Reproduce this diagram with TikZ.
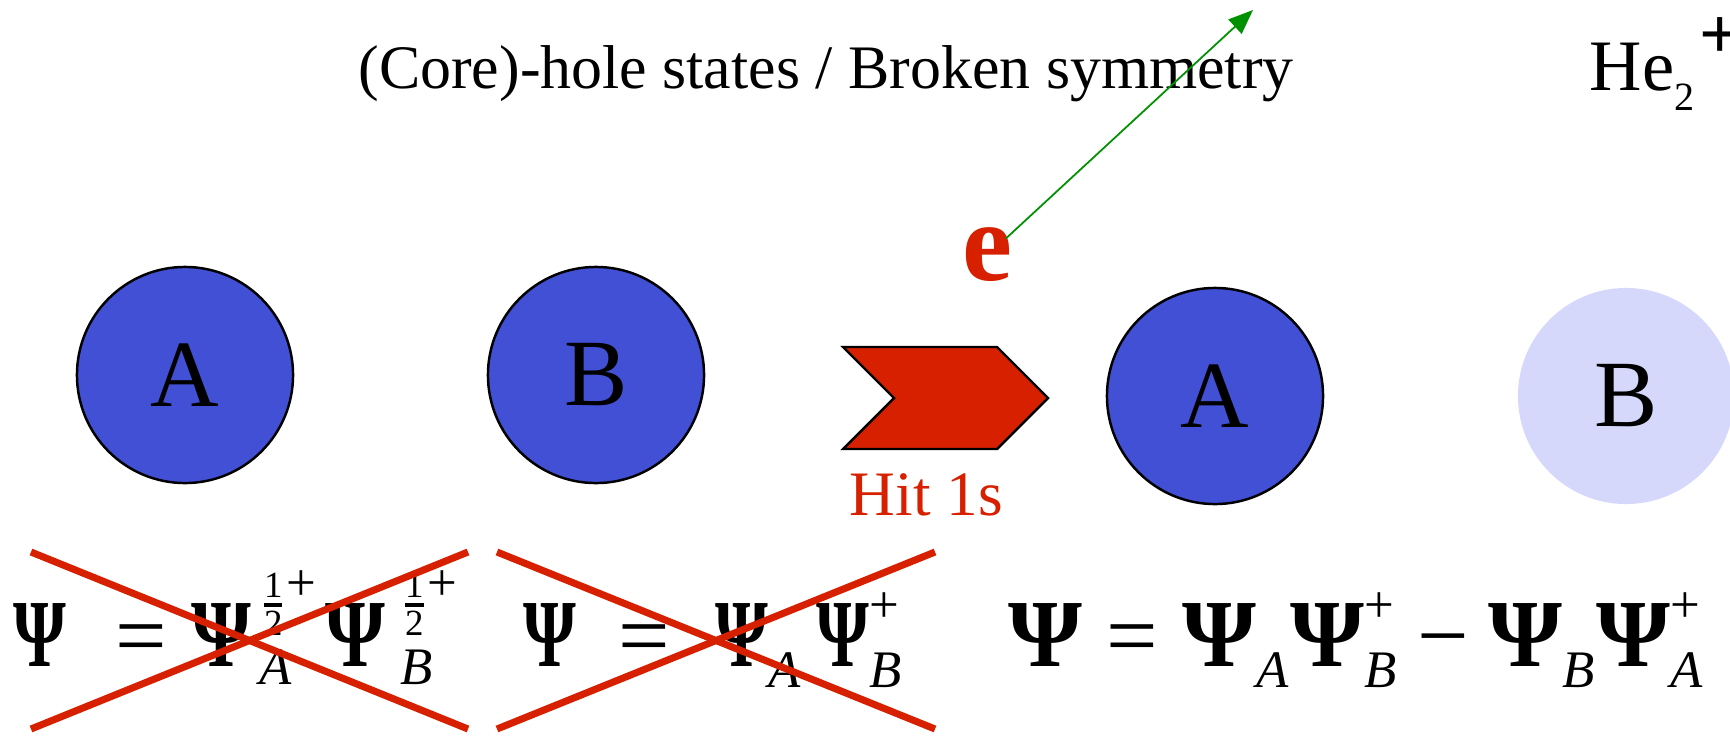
\documentclass[tikz,border=0pt]{standalone}
\usepackage{fontspec}
\usepackage{amsmath}
\usepackage{graphicx}
\setmainfont{Liberation Serif}
\usetikzlibrary{arrows.meta,positioning}
\definecolor{hsBlue}{RGB}{66,80,214}
\definecolor{hsPale}{RGB}{214,216,251}
\definecolor{hsRed}{RGB}{215,32,0}
\definecolor{hsGreen}{RGB}{0,145,0}
\DeclareMathSizes{26}{26}{15}{11}
\newcommand{\PsiW}[1]{\text{\resizebox{#1}{17.9pt}{\bfseries Ψ}}}
\newcommand{\wPsi}{\PsiW{21pt}}
\newcommand{\nPsi}{\PsiW{15pt}}
\newcommand{\halfplus}{\text{\raisebox{-3pt}{$\genfrac{}{}{1.2pt}{}{\text{1}}{\text{2}}$}\raisebox{2pt}{+}}}
\tikzset{
  atom/.style={
    circle, draw=black, line width=0.7pt, fill=hsBlue, minimum size=2.16cm,
    inner sep=0pt, font=\fontsize{27}{30}\selectfont
  },
  atomhole/.style={atom, draw=none, fill=hsPale},
  heading/.style={font=\fontsize{17.6}{20}\selectfont, anchor=base, inner sep=0pt},
  eqn/.style={font=\fontsize{26}{30}\selectfont, anchor=base west, inner sep=0pt},
  hitarrow/.style={draw=black, line width=0.7pt, fill=hsRed, line join=miter},
  crossline/.style={hsRed, line width=2pt},
  ejet/.style={-{Triangle[length=7pt,width=5.5pt]}, hsGreen, line width=0.5pt}
}
\begin{document}
\begin{tikzpicture}[x=0.01cm, y=-0.01cm]
  \useasboundingbox (0,0) rectangle (1730,736);

  % titles
  \node[heading] (title) at (826,88) {(Core)-hole states / Broken symmetry};
  \node[font=\fontsize{20.6}{24}\selectfont, anchor=base west, inner sep=0pt] (he) at (1589,90)
    {He\raisebox{-5.7pt}{\fontsize{11.4}{12}\selectfont 2}\kern1.5pt\raisebox{9pt}{\bfseries +}};

  % before the hit
  \node[atom] (a1) at (185,375) {A};
  \node[atom] (b1) at (596,375) {B};

  % the hit
  \draw[hitarrow] (843,347) -- (997,347) -- (1048,398) -- (997,449) -- (843,449) -- (894,398) -- cycle;
  \node[font=\fontsize{18}{20}\selectfont, text=hsRed, anchor=base west, inner sep=0pt] (hit) at (849,515) {Hit 1s};

  % after the hit
  \node[atom] (a2) at (1215,396) {A};
  \node[atomhole] (b2) at (1626,396) {B};

  % emitted electron
  \node[font=\fontsize{32}{34}\selectfont\bfseries, text=hsRed, anchor=base, inner sep=0pt] (e) at (987,280) {e};
  \coordinate (efar) at (1253,10);
  \draw[ejet] ([xshift=-2pt,yshift=-3.5pt]e.north east) -- (efar);

  % wave functions
  \node[eqn] (eq1) at (13,666)
    {$\nPsi\hspace{7pt} \mathrel{\text{=}} {\PsiW{17pt}\kern2.5pt}_{\textit{A}}^{\halfplus}\hspace{2pt}{\PsiW{17pt}\kern4.5pt}_{\textit{B}}^{\halfplus}$};
  \node[eqn] (eq2) at (523,666)
    {$\nPsi\hspace{5pt} \mathrel{\text{=}}\hspace{6pt} \nPsi_{\textit{A}}^{}\,\nPsi_{\textit{B}}^{\text{+}}$};
  \node[eqn] (eq3) at (1008,666)
    {$\wPsi \mathrel{\text{=}} \wPsi_{\textit{A}}^{}\wPsi_{\textit{B}}^{\text{+}} \mathbin{\text{−}} \wPsi_{\textit{B}}^{}\wPsi_{\textit{A}}^{\text{+}}$};

  % crossed out
  \foreach \xl/\xr in {31/468, 497/935}{
    \draw[crossline] (\xl,552) -- (\xr,729);
    \draw[crossline] (\xl,729) -- (\xr,552);
  }
\end{tikzpicture}
\end{document}
